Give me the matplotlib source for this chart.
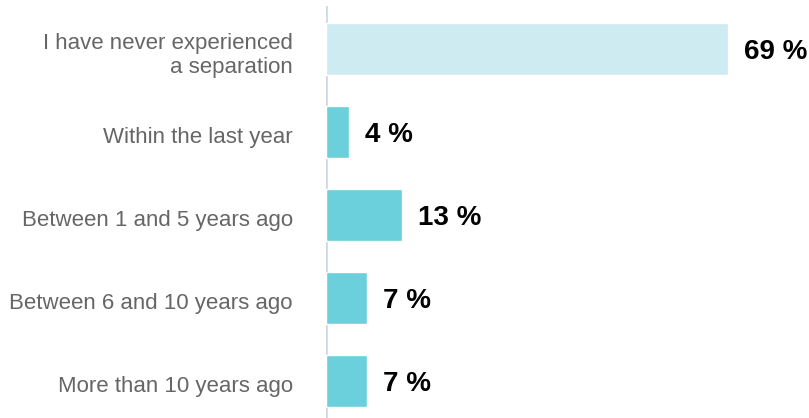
import matplotlib.pyplot as plt
from matplotlib.transforms import ScaledTranslation

# Survey answers: when did the separation happen
categories = [
    'I have never experienced\na separation',
    'Within the last year',
    'Between 1 and 5 years ago',
    'Between 6 and 10 years ago',
    'More than 10 years ago',
]
shares = [69, 4, 13, 7, 7]
bar_colors = ['#cdebf1', '#6ccfdc', '#6ccfdc', '#6ccfdc', '#6ccfdc']

plt.rcParams['font.family'] = ['Liberation Sans', 'DejaVu Sans']

fig = plt.figure(figsize=(8.09, 4.18), dpi=100)
ax = fig.add_axes([326 / 809, 0.0, 1 - 326 / 809, 412 / 418])

positions = list(range(len(categories)))
ax.axvline(0, color='#d0d8ec', linewidth=2.0, zorder=1)
ax.barh(positions, shares, height=0.63, color=bar_colors,
        edgecolor='white', linewidth=1.0, zorder=2)

for pos, val in zip(positions, shares):
    ax.annotate(f'{val} %', xy=(val, pos), xytext=(16, -3),
                textcoords='offset pixels', va='center', ha='left',
                fontsize=20, fontweight='bold', color='black')

ax.set_xlim(0, 83.0)
ax.set_ylim(4.446, -0.518)
ax.set_yticks(positions)
ax.set_yticklabels(categories, fontsize=16, color='#666666', linespacing=1.15)
ax.tick_params(axis='y', length=0, pad=24)
# nudge the category labels down a little
shift = ScaledTranslation(0, -3 / 100, fig.dpi_scale_trans)
for lbl in ax.get_yticklabels():
    lbl.set_transform(lbl.get_transform() + shift)
ax.set_xticks([])
for side in ['top', 'right', 'bottom', 'left']:
    ax.spines[side].set_visible(False)

fig.savefig('out.png', dpi=100)
